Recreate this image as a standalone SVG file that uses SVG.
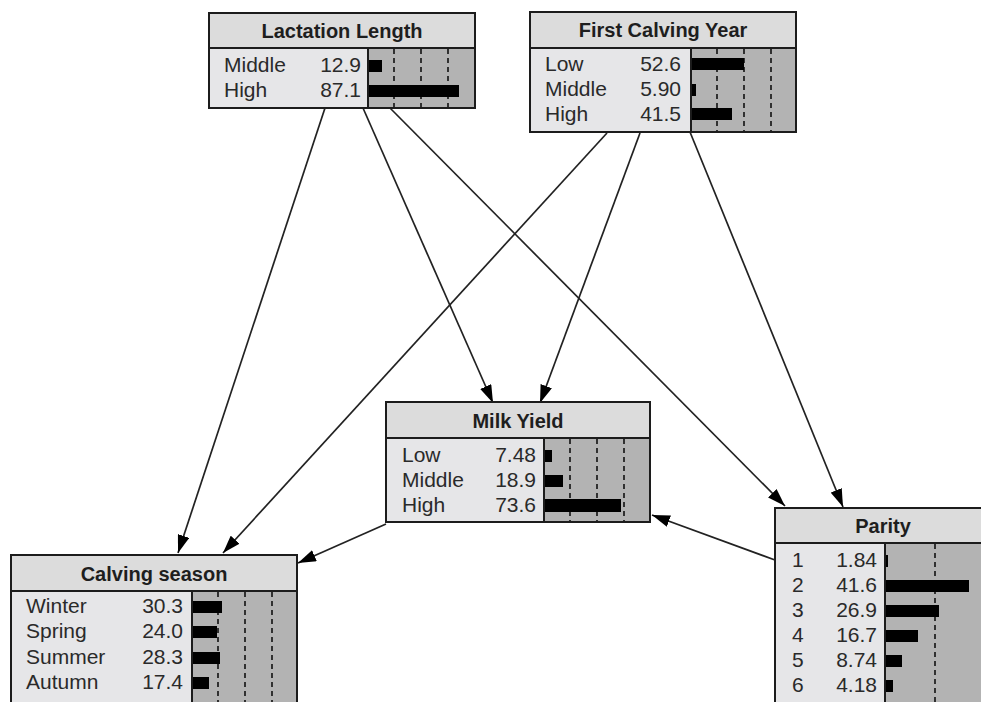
<svg xmlns="http://www.w3.org/2000/svg" width="981" height="702" viewBox="0 0 981 702">
<defs>
<style>
.bg{fill:#ffffff}
.box{fill:none;stroke:#1c1c1c;stroke-width:2}
.ttl{fill:#dcdcdc}
.lbl{fill:#e6e6e8}
.bar{fill:#b3b3b3}
.sep{stroke:#1c1c1c;stroke-width:2}
.dash{stroke:#111;stroke-width:1.6;stroke-dasharray:5 4}
.fill{fill:#000}
.t{font-family:"Liberation Sans",Arial,sans-serif;font-weight:bold;font-size:20px;text-anchor:middle;fill:#1e1e1e}
.s{font-family:"Liberation Sans",Arial,sans-serif;font-size:21px;fill:#2a2a2a}
.v{font-family:"Liberation Sans",Arial,sans-serif;font-size:21px;fill:#2a2a2a;text-anchor:end}
.edge{stroke:#222;stroke-width:1.7;fill:none;marker-end:url(#ah)}
</style>
<marker id="ah" viewBox="0 0 18 12" refX="18" refY="6" markerWidth="18" markerHeight="12" orient="auto" markerUnits="userSpaceOnUse">
<path d="M0,0 L18,6 L0,12 z" fill="#000"/>
</marker>
</defs>
<rect class="bg" x="0" y="0" width="981" height="702"/>

<g id="connectors">
<path class="edge" d="M325,108 L178,553"/>
<path class="edge" d="M363,108 L493,403"/>
<path class="edge" d="M390,108 L785,506"/>
<path class="edge" d="M607,133 L223,553"/>
<path class="edge" d="M640,133 L540,403"/>
<path class="edge" d="M690,132 L843,507"/>
<path class="edge" d="M386,524 L298,563"/>
<path class="edge" d="M775,560 L652,515"/>
</g>

<g id="lactation-length">
<rect class="ttl" x="209" y="13" width="266" height="35"/>
<rect class="lbl" x="209" y="48" width="159" height="60"/>
<rect class="bar" x="368" y="48" width="107" height="60"/>
<line class="dash" x1="394" y1="49" x2="394" y2="107"/>
<line class="dash" x1="421" y1="49" x2="421" y2="107"/>
<line class="dash" x1="448" y1="49" x2="448" y2="107"/>
<rect class="fill" x="368" y="60" width="14" height="12"/>
<rect class="fill" x="368" y="85" width="91" height="12"/>
<line class="sep" x1="209" y1="48" x2="475" y2="48"/>
<line class="sep" x1="368" y1="48" x2="368" y2="108"/>
<rect class="box" x="209" y="13" width="266" height="95"/>
<text class="t" x="342" y="38">Lactation Length</text>
<text class="s" x="224" y="72">Middle</text><text class="v" x="361" y="72">12.9</text>
<text class="s" x="224" y="97">High</text><text class="v" x="361" y="97">87.1</text>
</g>

<g id="first-calving-year">
<rect class="ttl" x="530" y="12" width="266" height="36"/>
<rect class="lbl" x="530" y="48" width="161" height="84"/>
<rect class="bar" x="691" y="48" width="105" height="84"/>
<line class="dash" x1="717" y1="49" x2="717" y2="131"/>
<line class="dash" x1="744" y1="49" x2="744" y2="131"/>
<line class="dash" x1="771" y1="49" x2="771" y2="131"/>
<rect class="fill" x="691" y="58" width="53" height="12"/>
<rect class="fill" x="691" y="84" width="5" height="12"/>
<rect class="fill" x="691" y="108" width="41" height="12"/>
<line class="sep" x1="530" y1="48" x2="796" y2="48"/>
<line class="sep" x1="691" y1="48" x2="691" y2="132"/>
<rect class="box" x="530" y="12" width="266" height="120"/>
<text class="t" x="663" y="37">First Calving Year</text>
<text class="s" x="545" y="71">Low</text><text class="v" x="681" y="71">52.6</text>
<text class="s" x="545" y="96">Middle</text><text class="v" x="681" y="96">5.90</text>
<text class="s" x="545" y="121">High</text><text class="v" x="681" y="121">41.5</text>
</g>

<g id="milk-yield">
<rect class="ttl" x="386" y="402" width="264" height="36"/>
<rect class="lbl" x="386" y="438" width="158" height="84"/>
<rect class="bar" x="544" y="438" width="106" height="84"/>
<line class="dash" x1="570" y1="439" x2="570" y2="521"/>
<line class="dash" x1="597" y1="439" x2="597" y2="521"/>
<line class="dash" x1="624" y1="439" x2="624" y2="521"/>
<rect class="fill" x="544" y="450" width="8" height="12"/>
<rect class="fill" x="544" y="475" width="19" height="12"/>
<rect class="fill" x="544" y="499" width="77" height="13"/>
<line class="sep" x1="386" y1="438" x2="650" y2="438"/>
<line class="sep" x1="544" y1="438" x2="544" y2="522"/>
<rect class="box" x="386" y="402" width="264" height="120"/>
<text class="t" x="518" y="428">Milk Yield</text>
<text class="s" x="402" y="462">Low</text><text class="v" x="536" y="462">7.48</text>
<text class="s" x="402" y="487">Middle</text><text class="v" x="536" y="487">18.9</text>
<text class="s" x="402" y="512">High</text><text class="v" x="536" y="512">73.6</text>
</g>

<g id="calving-season">
<rect class="ttl" x="11" y="555" width="286" height="36"/>
<rect class="lbl" x="11" y="591" width="181" height="125"/>
<rect class="bar" x="192" y="591" width="105" height="125"/>
<line class="dash" x1="218" y1="592" x2="218" y2="702"/>
<line class="dash" x1="245" y1="592" x2="245" y2="702"/>
<line class="dash" x1="272" y1="592" x2="272" y2="702"/>
<rect class="fill" x="192" y="601" width="30" height="12"/>
<rect class="fill" x="192" y="626" width="25" height="12"/>
<rect class="fill" x="192" y="652" width="28" height="12"/>
<rect class="fill" x="192" y="677" width="17" height="12"/>
<line class="sep" x1="11" y1="591" x2="297" y2="591"/>
<line class="sep" x1="192" y1="591" x2="192" y2="716"/>
<rect class="box" x="11" y="555" width="286" height="161"/>
<text class="t" x="154" y="581">Calving season</text>
<text class="s" x="26" y="613">Winter</text><text class="v" x="183" y="613">30.3</text>
<text class="s" x="26" y="638">Spring</text><text class="v" x="183" y="638">24.0</text>
<text class="s" x="26" y="664">Summer</text><text class="v" x="183" y="664">28.3</text>
<text class="s" x="26" y="689">Autumn</text><text class="v" x="183" y="689">17.4</text>
</g>

<g id="parity">
<rect class="ttl" x="775" y="508" width="230" height="35"/>
<rect class="lbl" x="775" y="543" width="110" height="180"/>
<rect class="bar" x="885" y="543" width="120" height="180"/>
<line class="dash" x1="935" y1="544" x2="935" y2="702"/>
<rect class="fill" x="885" y="555" width="3" height="12"/>
<rect class="fill" x="885" y="580" width="84" height="12"/>
<rect class="fill" x="885" y="605" width="54" height="12"/>
<rect class="fill" x="885" y="630" width="33" height="12"/>
<rect class="fill" x="885" y="655" width="17" height="12"/>
<rect class="fill" x="885" y="680" width="8" height="12"/>
<line class="sep" x1="775" y1="543" x2="1005" y2="543"/>
<line class="sep" x1="885" y1="543" x2="885" y2="723"/>
<rect class="box" x="775" y="508" width="230" height="215"/>
<text class="t" x="883" y="533">Parity</text>
<text class="s" x="792" y="567">1</text><text class="v" x="877" y="567">1.84</text>
<text class="s" x="792" y="592">2</text><text class="v" x="877" y="592">41.6</text>
<text class="s" x="792" y="617">3</text><text class="v" x="877" y="617">26.9</text>
<text class="s" x="792" y="642">4</text><text class="v" x="877" y="642">16.7</text>
<text class="s" x="792" y="667">5</text><text class="v" x="877" y="667">8.74</text>
<text class="s" x="792" y="692">6</text><text class="v" x="877" y="692">4.18</text>
</g>
</svg>
